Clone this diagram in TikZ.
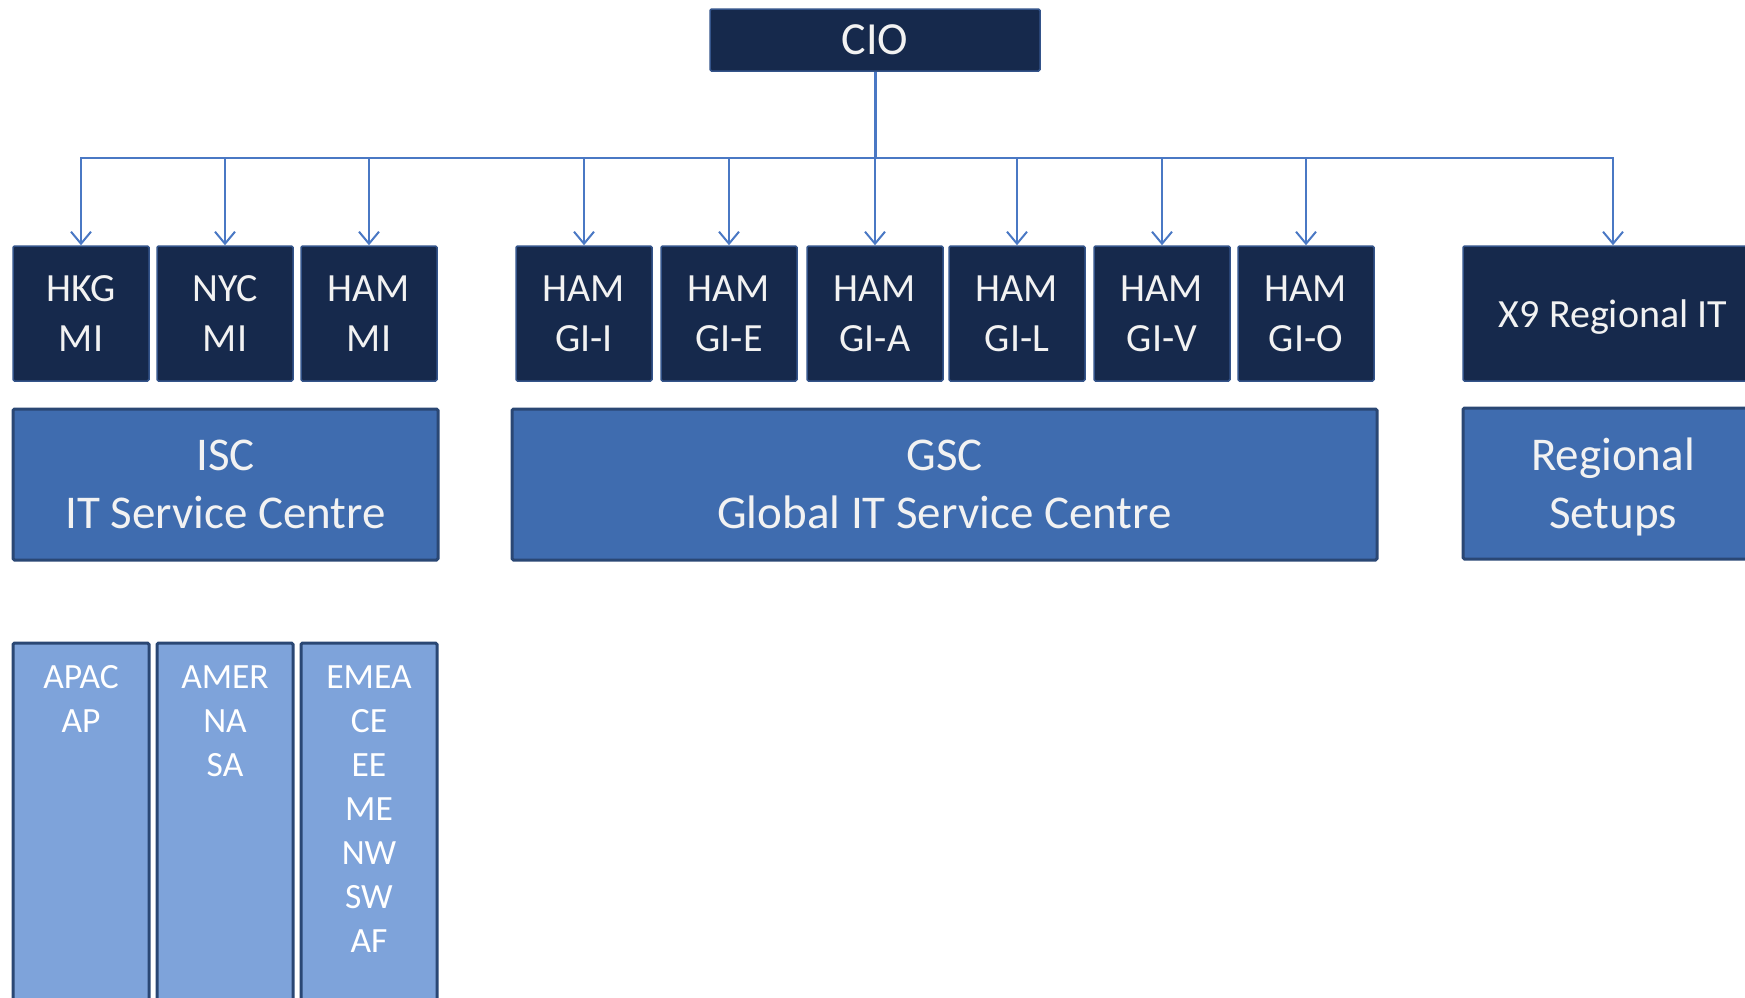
\documentclass[tikz,border=0pt]{standalone}
\usepackage{fontspec}
\setmainfont{Carlito}
\usetikzlibrary{arrows.meta}
\definecolor{darkfill}{HTML}{16294C}
\definecolor{darkedge}{HTML}{34548A}
\definecolor{midfill}{HTML}{3F6CAF}
\definecolor{boxedge}{HTML}{2A4774}
\definecolor{lightfill}{HTML}{7EA3DA}
\definecolor{linkblue}{HTML}{4A78C4}
\definecolor{textwhite}{HTML}{F2F2F2}
\begin{document}
\begin{tikzpicture}[x=1pt,y=-1pt,
  darkbox/.style={draw=darkedge, fill=darkfill, line width=1.5pt, rounded corners=1.5pt,
    text=textwhite, align=center, inner sep=0pt, font=\fontsize{40}{50}\selectfont,
    minimum width=136pt, minimum height=135pt},
  midbox/.style={draw=boxedge, fill=midfill, line width=3pt, rounded corners=1.5pt,
    text=textwhite, align=center, inner sep=0pt, font=\fontsize{47}{58}\selectfont,
    minimum height=151pt},
  lightbox/.style={draw=boxedge, fill=lightfill, line width=3pt, rounded corners=1.5pt,
    inner sep=0pt, minimum width=136pt, minimum height=400pt},
  lighttext/.style={text=white, align=center, inner sep=0pt, font=\fontsize{35.5}{44}\selectfont, anchor=north},
  link/.style={draw=linkblue, line width=2pt},
  arrowlink/.style={link, -{Straight Barb[length=12pt,width=20pt]}}
]
\useasboundingbox (0,0) rectangle (1745,997);
\clip (0,0) rectangle (1745,997);

% top
\node[darkbox, minimum width=330pt, minimum height=62pt, font=\fontsize{46}{56}\selectfont] (cio) at (875,40) {CIO};
\coordinate (hub) at (875,158);

% row 1
\node[darkbox] (hkg) at (81,313.5) {HKG\\MI};
\node[darkbox] (nyc) at (225,313.5) {NYC\\MI};
\node[darkbox] (hammi) at (369,313.5) {HAM\\MI};
\node[darkbox] (gii) at (584,313.5) {HAM\\GI-I};
\node[darkbox] (gie) at (729,313.5) {HAM\\GI-E};
\node[darkbox] (gia) at (875,313.5) {HAM\\GI-A};
\node[darkbox] (gil) at (1017,313.5) {HAM\\GI-L};
\node[darkbox] (giv) at (1162,313.5) {HAM\\GI-V};
\node[darkbox] (gio) at (1306,313.5) {HAM\\GI-O};
\node[darkbox, minimum width=300pt, text depth=0pt] (x9) at (1613,313.5) {X9 Regional IT};

% row 2
\node[midbox, minimum width=425pt] (isc) at (225.5,484.5) {ISC\\IT Service Centre};
\node[midbox, minimum width=865pt] (gsc) at (944.5,484.5) {GSC\\Global IT Service Centre};
\node[midbox, minimum width=300pt, text depth=0pt] (reg) at (1613,483.5) {Regional\\Setups};

% row 3
\node[lightbox] (apac) at (81,843) {};
\node[lightbox] (amer) at (225,843) {};
\node[lightbox] (emea) at (369,843) {};
\node[lighttext] (apact) at ([yshift=-24pt]apac.north) {APAC\\AP};
\node[lighttext] (amert) at ([yshift=-24pt]amer.north) {AMER\\NA\\SA};
\node[lighttext] (emeat) at ([yshift=-24pt]emea.north) {EMEA\\CE\\EE\\ME\\NW\\SW\\AF};

% connectors
\draw[link, line width=3pt] (cio.south) -- (hub);
\foreach \n in {hkg,nyc,hammi,gii,gie,gia,gil,giv,gio,x9}
  \draw[arrowlink] (hub) -| (\n.north);
\end{tikzpicture}
\end{document}
